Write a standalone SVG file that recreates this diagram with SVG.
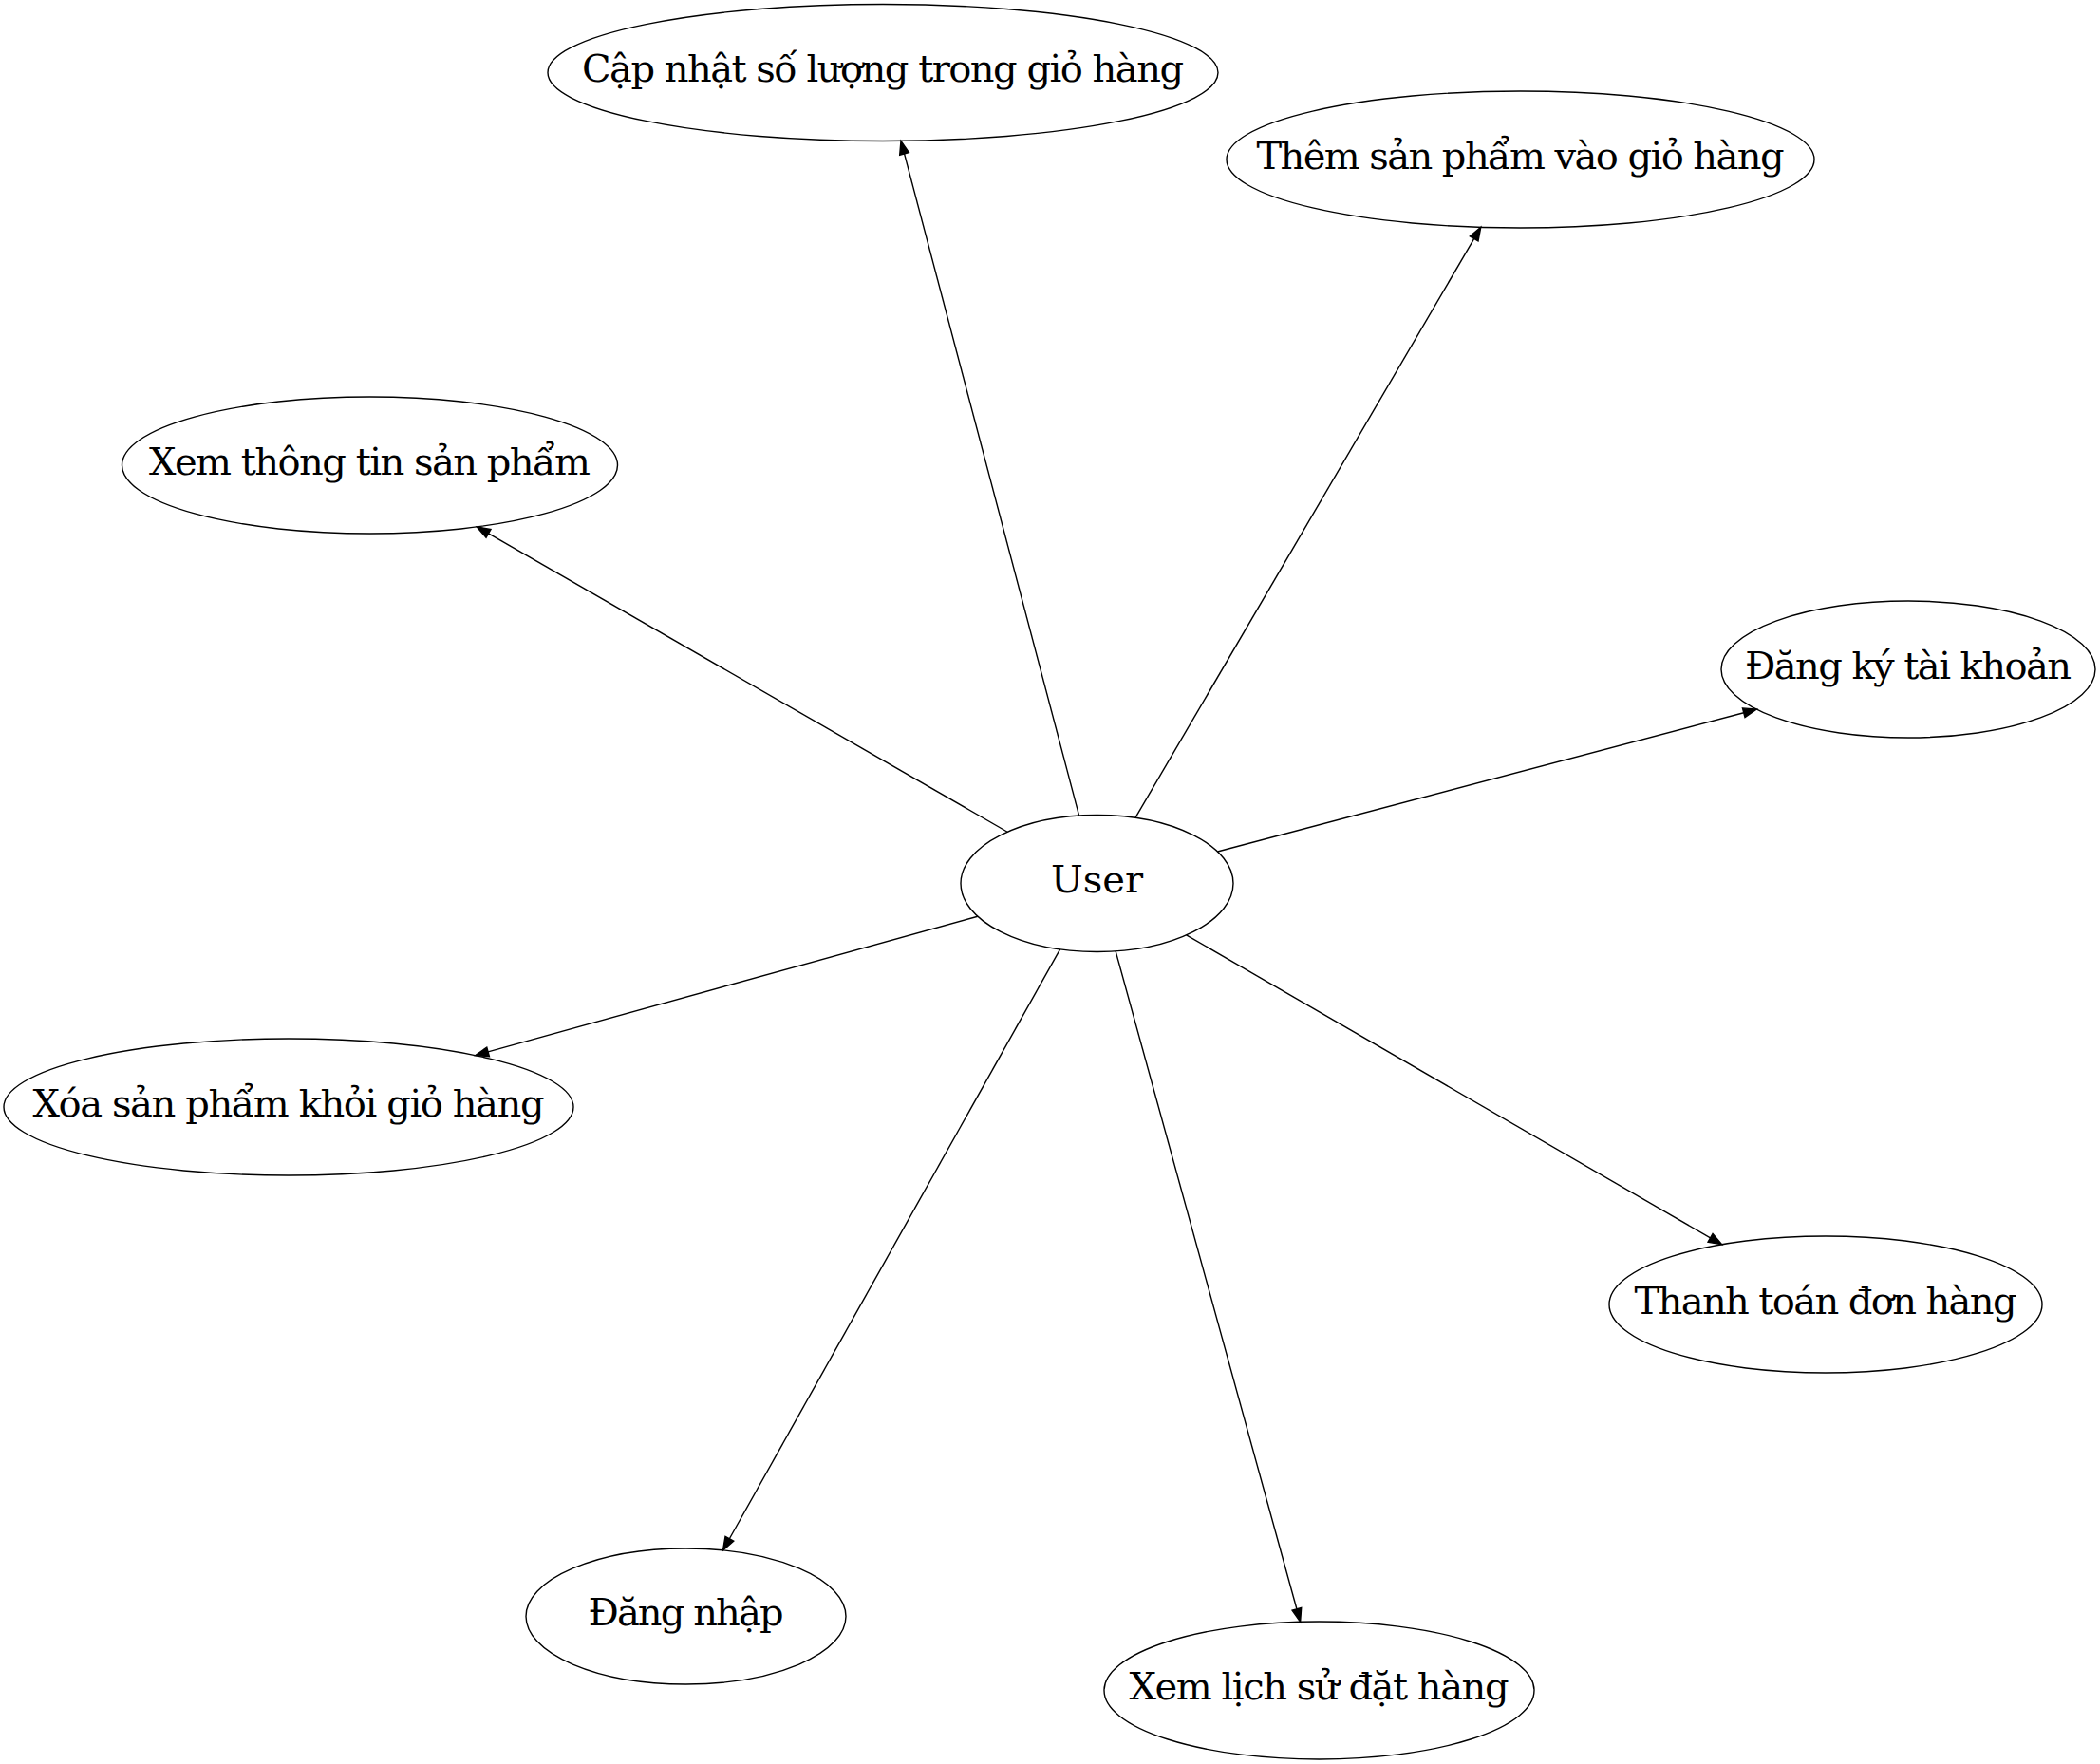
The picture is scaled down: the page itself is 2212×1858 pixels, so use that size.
<svg xmlns="http://www.w3.org/2000/svg" width="2212" height="1858" viewBox="0 0 2212 1858">
<style>
.node ellipse{fill:none;stroke:#000;stroke-width:1.4}
.node text{font-family:"DejaVu Serif",serif;font-size:40px;fill:#000;text-anchor:middle}
.edge path{fill:none;stroke:#000;stroke-width:1.4}
</style>
<defs>
<marker id="arr" markerUnits="userSpaceOnUse" markerWidth="16" markerHeight="12" refX="0" refY="5" orient="auto" viewBox="0 0 16 12" overflow="visible">
<path d="M0,0 L14,5 L0,10 z" fill="#000" stroke="#000" stroke-width="1.4"/>
</marker>
</defs>
<rect width="2212" height="1858" fill="#fff"/>
<g id="edges" class="edge">
<path d="M1136.65,859.12 L952.55,161.94" marker-end="url(#arr)"/>
<path d="M1195.91,861.41 L1552.70,251.43" marker-end="url(#arr)"/>
<path d="M1061.16,876.25 L514.52,561.90" marker-end="url(#arr)"/>
<path d="M1282.50,896.98 L1836.74,750.72" marker-end="url(#arr)"/>
<path d="M1029.83,965.26 L514.11,1107.89" marker-end="url(#arr)"/>
<path d="M1249.58,984.86 L1801.54,1303.82" marker-end="url(#arr)"/>
<path d="M1116.63,999.81 L768.36,1620.73" marker-end="url(#arr)"/>
<path d="M1175.13,1001.82 L1365.90,1694.78" marker-end="url(#arr)"/>
</g>
<g id="user" class="node"><ellipse cx="1155.5" cy="930.5" rx="143.5" ry="72"/><text x="1155.5" y="940">User</text></g>
<g id="capnhat" class="node"><ellipse cx="930" cy="76.5" rx="353" ry="72"/><text x="930" y="86" textLength="634" lengthAdjust="spacing">Cập nhật số lượng trong giỏ hàng</text></g>
<g id="them" class="node"><ellipse cx="1601.5" cy="168" rx="309.5" ry="72"/><text x="1601.5" y="177.5" textLength="556" lengthAdjust="spacing">Thêm sản phẩm vào giỏ hàng</text></g>
<g id="xemthongtin" class="node"><ellipse cx="389.5" cy="490" rx="261" ry="72"/><text x="389.5" y="499.5" textLength="465" lengthAdjust="spacing">Xem thông tin sản phẩm</text></g>
<g id="dangky" class="node"><ellipse cx="2010" cy="705" rx="197" ry="72"/><text x="2010" y="714.5" textLength="344" lengthAdjust="spacing">Đăng ký tài khoản</text></g>
<g id="xoa" class="node"><ellipse cx="304" cy="1166" rx="300" ry="72"/><text x="304" y="1175.5" textLength="539" lengthAdjust="spacing">Xóa sản phẩm khỏi giỏ hàng</text></g>
<g id="thanhtoan" class="node"><ellipse cx="1923" cy="1374" rx="228" ry="72"/><text x="1923" y="1383.5" textLength="403" lengthAdjust="spacing">Thanh toán đơn hàng</text></g>
<g id="dangnhap" class="node"><ellipse cx="722.5" cy="1702.5" rx="168.5" ry="71.5"/><text x="722.5" y="1712" textLength="206" lengthAdjust="spacing">Đăng nhập</text></g>
<g id="lichsu" class="node"><ellipse cx="1389.5" cy="1780.5" rx="226.5" ry="72.5"/><text x="1389.5" y="1790" textLength="400" lengthAdjust="spacing">Xem lịch sử đặt hàng</text></g>
</svg>
